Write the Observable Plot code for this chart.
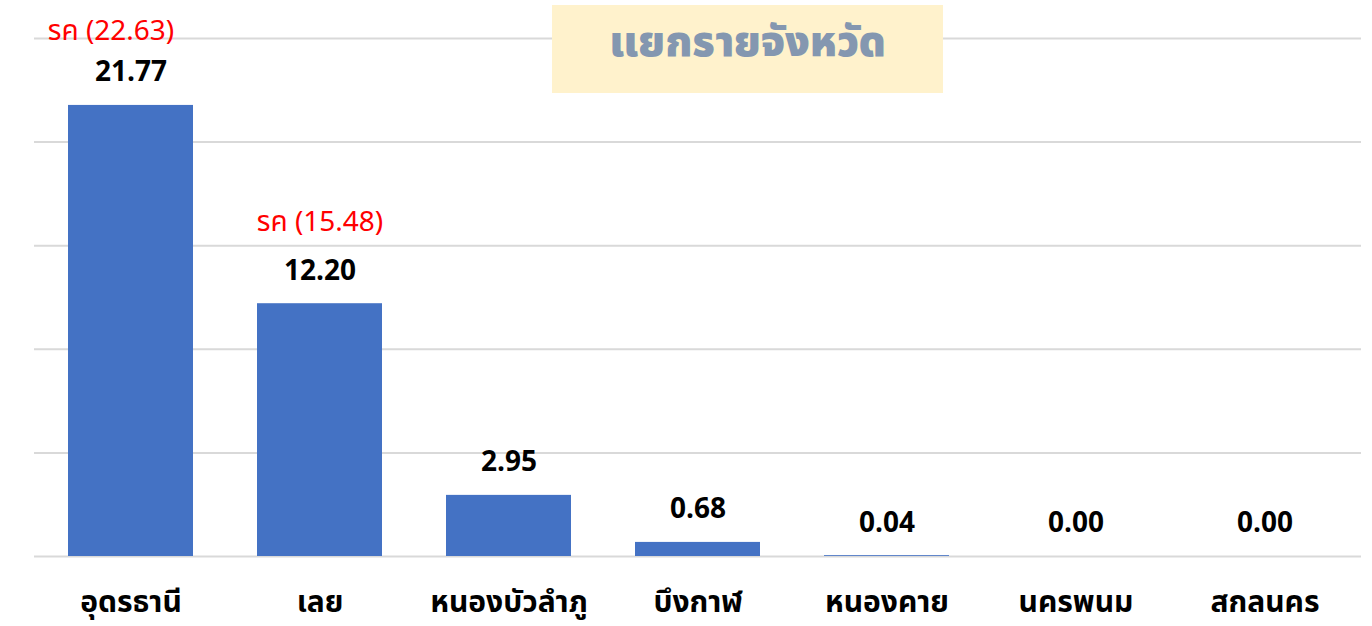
<!DOCTYPE html>
<html>
<head>
<meta charset="utf-8">
<script src="https://cdn.jsdelivr.net/npm/d3@7"></script>
<script src="https://cdn.jsdelivr.net/npm/@observablehq/plot@0.6"></script>
<style>
  html, body { margin: 0; padding: 0; background: #fff; }
  #wrap { position: relative; width: 1372px; height: 626px; font-family: "Noto Sans Thai", "Noto Sans", sans-serif; }
  #title { position: absolute; left: 552px; top: 5px; width: 391px; height: 88px; background: #FFF2CC;
           color: #8497B0; font-weight: 900; font-size: 42px; text-align: center; line-height: 76px; z-index: 2; }
  #chart { position: absolute; left: 0; top: 0; }
</style>
</head>
<body>
<div id="wrap">
  <div id="chart"></div>
  <div id="title">แยกรายจังหวัด</div>
</div>
<script>
const provinces = ["อุดรธานี", "เลย", "หนองบัวลำภู", "บึงกาฬ", "หนองคาย", "นครพนม", "สกลนคร"];
const values = [21.77, 12.20, 2.95, 0.68, 0.04, 0.00, 0.00];
const redProvinces = ["อุดรธานี", "เลย"];
const redLabels = ["รค (22.63)", "รค (15.48)"];
const yTicks = [0, 5, 10, 15, 20, 25];

const data = provinces.map((p, i) => ({province: p, value: values[i]}));
const red = redProvinces.map((p, i) => ({province: p, value: values[provinces.indexOf(p)], label: redLabels[i]}));
const redDy = [-74, -82];
const redDx = [-20, 0];

const font = "'Noto Sans Thai', 'Noto Sans', sans-serif";

const plot = Plot.plot({
  width: 1372,
  height: 626,
  marginLeft: 34,
  marginRight: 11,
  marginTop: 38,
  marginBottom: 70,
  style: {fontFamily: font, background: "transparent"},
  x: {domain: provinces, paddingInner: 0.34, paddingOuter: 0.17, axis: null},
  y: {domain: [0, 25], axis: null},
  marks: [
    Plot.ruleY(yTicks, {stroke: "#D9D9D9", strokeWidth: 2}),
    Plot.barY(data, {x: "province", y: "value", fill: "#4472C4"}),
    Plot.text(data, {x: "province", y: "value", text: d => d.value.toFixed(2), dy: -33, lineAnchor: "middle",
      fontSize: 28, fontWeight: "bold", fill: "#000"}),
    Plot.text(data, {x: "province", y: 0, text: "province", dy: 46, lineAnchor: "middle",
      fontSize: 30, fontWeight: "bold", fill: "#000"}),
    ...red.map((d, i) => Plot.text([d], {x: "province", y: "value", text: "label", dy: redDy[i], dx: redDx[i],
      lineAnchor: "middle", fontSize: 28, fill: "#FF0000"}))
  ]
});
document.getElementById("chart").appendChild(plot);
</script>
</body>
</html>
